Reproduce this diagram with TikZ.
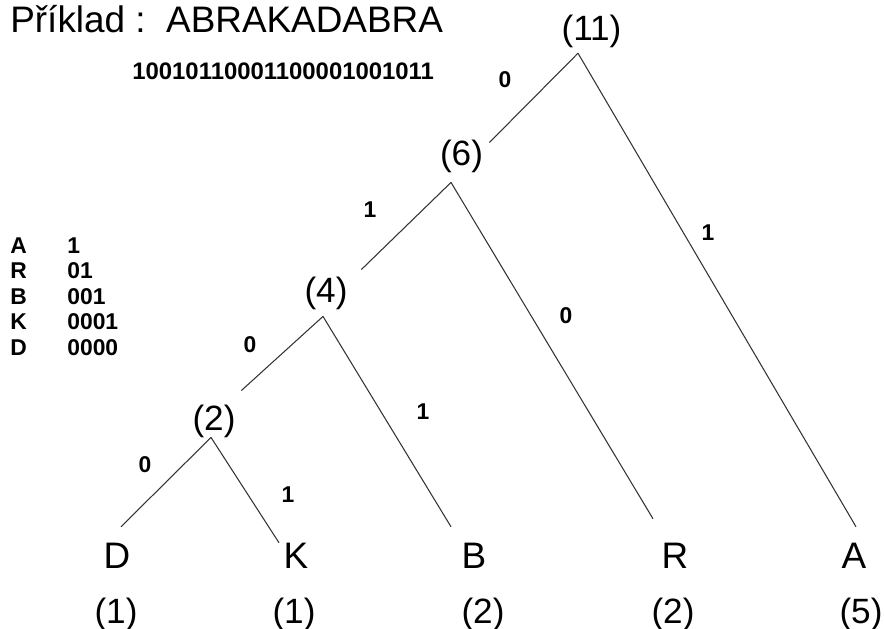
\documentclass[tikz,border=0pt]{standalone}
\usepackage{fontspec}
\setmainfont{Liberation Sans}
\usetikzlibrary{positioning, calc}

\begin{document}
\begin{tikzpicture}[x=0.02cm, y=-0.02cm,
    big/.style={inner sep=0pt, font=\fontsize{20}{24}\selectfont},
    leaf/.style={inner sep=0pt, anchor=base, font=\fontsize{21}{25}\selectfont},
    bit/.style={inner sep=0pt, font=\fontsize{13}{16}\selectfont\bfseries},
    edge/.style={draw=black!80, line width=0.6pt}]
\useasboundingbox (0,0) rectangle (884,628);

% nadpis a zakodovany retezec
\node[big, anchor=base west, font=\fontsize{21}{25}\selectfont] (title) at (10,33) {Příklad :\ \ ABRAKADABRA};
\node[bit, anchor=base west, font=\fontsize{13.6}{16}\selectfont\bfseries] (code) at (132,80) {10010110001100001001011};

% tabulka kodu
\node[bit, anchor=base west] (kA) at (10,253) {A};
\node[bit, anchor=base west] (cA) at (67,253) {1};
\node[bit, anchor=base west] (kR) at (10,278.5) {R};
\node[bit, anchor=base west] (cR) at (67,278.5) {01};
\node[bit, anchor=base west] (kB) at (10,304) {B};
\node[bit, anchor=base west] (cB) at (67,304) {001};
\node[bit, anchor=base west] (kK) at (10,329.5) {K};
\node[bit, anchor=base west] (cK) at (67,329.5) {0001};
\node[bit, anchor=base west] (kD) at (10,355) {D};
\node[bit, anchor=base west] (cD) at (67,355) {0000};

% vnitrni uzly stromu
\node[big] (n11) at (591.5,31.5) {(11)};
\node[big] (n6) at (461.5,156.5) {(6)};
\node[big] (n4) at (326,293.5) {(4)};
\node[big] (n2) at (214,421.5) {(2)};

% listy a cetnosti
\node[leaf] (D) at (117,568.5) {D};
\node[leaf] (K) at (296,568.5) {K};
\node[leaf] (B) at (474,568.5) {B};
\node[leaf] (R) at (675,568.5) {R};
\node[leaf] (A) at (854,568.5) {A};
\node[big, anchor=base] (fD) at (116,623) {(1)};
\node[big, anchor=base] (fK) at (294,623) {(1)};
\node[big, anchor=base] (fB) at (483,623) {(2)};
\node[big, anchor=base] (fR) at (673,623) {(2)};
\node[big, anchor=base] (fA) at (861,623) {(5)};

% hrany
\draw[edge] ($(n11.south)+(-13.5,5)$) -- ($(n6.north east)+(6,2.8)$);
\draw[edge] ($(n11.south)+(-13.5,5)$) -- ($(A.north)+(2,-16)$);
\draw[edge] ($(n6.south)+(-10.5,9.2)$) -- ($(n4.north east)+(13.5,-7.2)$);
\draw[edge] ($(n6.south)+(-10.5,9.2)$) -- ($(R.north)+(-22,-24)$);
\draw[edge] ($(n4.south)+(-3,6.2)$) -- ($(n2.north east)+(5.5,-14.2)$);
\draw[edge] ($(n4.south)+(-3,6.2)$) -- ($(B.north)+(-23,-16)$);
\draw[edge] ($(n2.south)+(-3,-0.8)$) -- ($(D.north)+(4,-16)$);
\draw[edge] ($(n2.south)+(-3,-0.8)$) -- ($(K.north)+(-17,0)$);

% popisky hran
\node[bit] (b11l) at (505,80) {0};
\node[bit] (b11r) at (708,233) {1};
\node[bit] (b6l) at (370,210) {1};
\node[bit] (b6r) at (566,316) {0};
\node[bit] (b4l) at (250,345) {0};
\node[bit] (b4r) at (423,412) {1};
\node[bit] (b2l) at (145,465) {0};
\node[bit] (b2r) at (288,495) {1};
\end{tikzpicture}
\end{document}
